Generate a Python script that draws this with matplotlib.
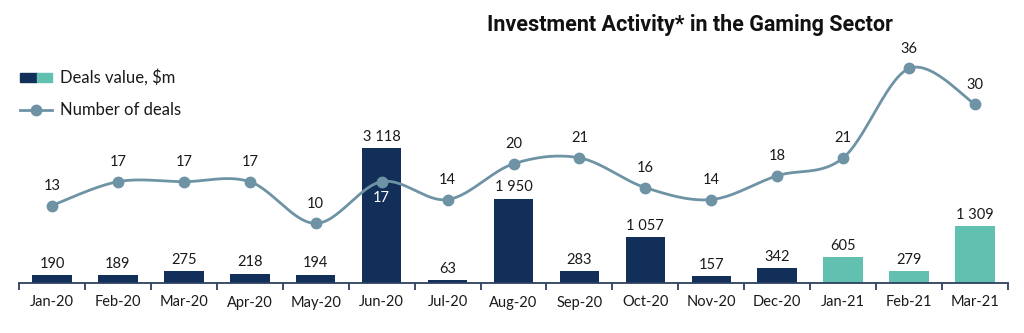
import numpy as np
import matplotlib.pyplot as plt
from matplotlib.patches import Rectangle
from matplotlib.lines import Line2D

months = ["Jan-20", "Feb-20", "Mar-20", "Apr-20", "May-20", "Jun-20", "Jul-20", "Aug-20",
          "Sep-20", "Oct-20", "Nov-20", "Dec-20", "Jan-21", "Feb-21", "Mar-21"]
deals_value = [190, 189, 275, 218, 194, 3118, 63, 1950, 283, 1057, 157, 342, 605, 279, 1309]
deals_count = [13, 17, 17, 17, 10, 17, 14, 20, 21, 16, 14, 18, 21, 36, 30]

NAVY = "#112f58"
TEAL = "#62c0b1"
LINE = "#6e93a5"
AXIS = "#2d4060"
FONT = "Lato"

plt.rcParams["font.family"] = [FONT, "DejaVu Sans"]

W, H = 1024, 333


def px(x, y):
    return x / W, 1 - y / H


def smooth(xs, ys, n=30):
    # cubic bezier through every point, control points from neighbours (tension 1/6)
    pts = np.column_stack([xs, ys]).astype(float)
    out = []
    for i in range(len(pts) - 1):
        p0 = pts[max(i - 1, 0)]
        p1 = pts[i]
        p2 = pts[i + 1]
        p3 = pts[min(i + 2, len(pts) - 1)]
        c1 = p1 + (p2 - p0) / 6
        c2 = p2 - (p3 - p1) / 6
        t = np.linspace(0, 1, n)[:, None]
        seg = ((1 - t) ** 3) * p1 + 3 * ((1 - t) ** 2) * t * c1 + 3 * (1 - t) * t ** 2 * c2 + t ** 3 * p2
        out.append(seg if i == 0 else seg[1:])
    out = np.vstack(out)
    return out[:, 0], out[:, 1]


fig = plt.figure(figsize=(W / 100, H / 100), dpi=100)
left, right = px(19, 0)[0], px(1008, 0)[0]
bottom = px(0, 283)[1]
top = px(0, 40)[1]
ax = fig.add_axes([left, bottom, right - left, top - bottom])
ax2 = ax.twinx()

x = np.arange(len(months))
colors = [TEAL if m.endswith("-21") else NAVY for m in months]
ax.bar(x, deals_value, width=0.6, color=colors, zorder=2)

# both scales share the baseline; pixel heights fixed per unit
ax.set_ylim(0, 243 / 0.0433)
ax2.set_ylim(0, 243 / 5.96)
ax.set_xlim(-0.5, len(months) - 0.5)

sx, sy = smooth(x, deals_count)
ax2.plot(sx, sy, color=LINE, lw=2, zorder=3)
ax2.plot(x, deals_count, "o", color=LINE, ms=7.5, zorder=4)

for xi, v in zip(x, deals_value):
    ax.annotate(f"{v:,}".replace(",", " "), (xi, v), xytext=(0, 3), textcoords="offset points",
                ha="center", va="bottom", fontsize=10.5, color="#1a1a1a")

for xi, n in zip(x, deals_count):
    if months[xi] == "Jun-20":
        ax2.annotate(str(n), (xi, n), xytext=(0, -7), textcoords="offset points",
                     ha="center", va="top", fontsize=10.5, color="white", zorder=5)
    else:
        ax2.annotate(str(n), (xi, n), xytext=(0, 9), textcoords="offset points",
                     ha="center", va="bottom", fontsize=10.5, color="#1a1a1a", zorder=5)

for a in (ax, ax2):
    for s in ("top", "right", "left"):
        a.spines[s].set_visible(False)
    a.set_yticks([])
ax2.spines["bottom"].set_visible(False)
ax.spines["bottom"].set_color(AXIS)
ax.spines["bottom"].set_linewidth(1.3)

ax.set_xticks(x)
ax.set_xticklabels(months, fontsize=10.5, color="#1a1a1a")
ax.tick_params(axis="x", which="major", length=0, pad=9)
ax.set_xticks(np.arange(-0.5, len(months)), minor=True)
ax.tick_params(axis="x", which="minor", length=5, width=1.3, color=AXIS)

fig.text(*px(690, 25), "Investment Activity* in the Gaming Sector", ha="center", va="center",
         fontsize=15.5, fontweight="bold", family=["Roboto", "DejaVu Sans"], color="#111111")

# legend
x0, y0 = px(20, 82)
x1, y1 = px(37, 73)
x2, _ = px(52, 73)
fig.add_artist(Rectangle((x0, y0), x1 - x0, y1 - y0, transform=fig.transFigure, color=NAVY))
fig.add_artist(Rectangle((x1, y0), x2 - x1, y1 - y0, transform=fig.transFigure, color=TEAL))
fig.text(*px(60, 77), "Deals value, $m", ha="left", va="center", fontsize=12, color="#1a1a1a")

lx0, ly = px(20, 110)
lx1, _ = px(52, 110)
lxm, _ = px(36, 110)
fig.add_artist(Line2D([lx0, lx1], [ly, ly], transform=fig.transFigure, color=LINE, lw=2))
fig.add_artist(Line2D([lxm], [ly], transform=fig.transFigure, color=LINE, marker="o", ms=7.5))
fig.text(*px(60, 110), "Number of deals", ha="left", va="center", fontsize=12, color="#1a1a1a")

fig.savefig("out.png", dpi=100)
